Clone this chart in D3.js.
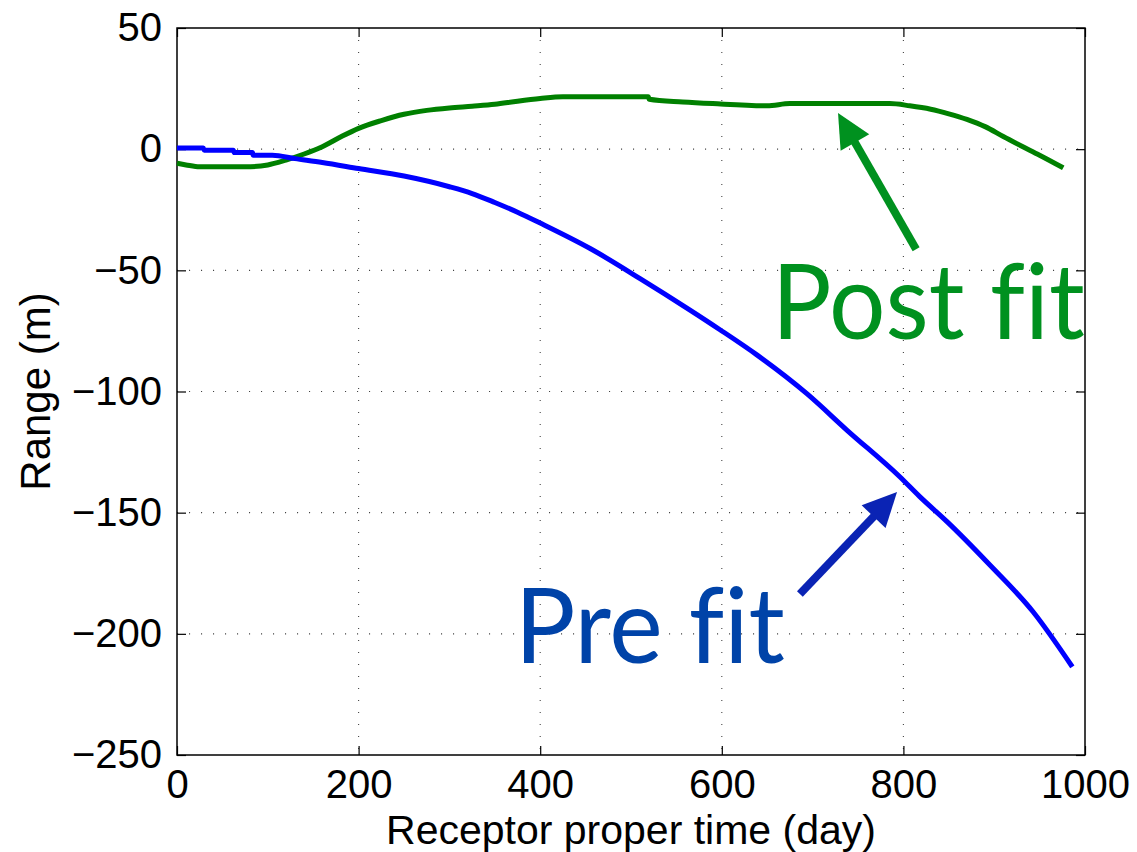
<!DOCTYPE html>
<html><head><meta charset="utf-8">
<script src="https://cdn.jsdelivr.net/npm/d3@7"></script>
<style>body{margin:0;background:#fff}</style>
</head><body>
<svg id="c" width="1137" height="852"></svg>
<script>
// ---- data ----
const xTicks = [0, 200, 400, 600, 800, 1000];
const yTicks = [50, 0, -50, -100, -150, -200, -250];

const preDays = [0, 29, 30, 62, 63, 83, 84, 105, 130, 160, 200, 250, 300, 325, 350, 375, 400, 455, 510, 565, 598, 639, 694, 738, 796, 818, 848, 895, 943, 986];
const preRange = [0.5, 0.5, -0.4, -0.4, -1.4, -1.4, -2.5, -2.5, -3.9, -5.5, -8, -11.1, -15.5, -18.3, -22, -26, -30.5, -41, -53.4, -66.4, -74.5, -85, -101, -116, -135.2, -143.4, -153.7, -171.5, -191, -213.6];

const postDays = [0, 10, 25, 75, 100, 120, 140, 160, 180, 200, 225, 250, 275, 300, 325, 350, 375, 400, 425, 519, 520, 557, 590, 650, 675, 785, 807, 830, 850, 870, 890, 910, 930, 950, 976];
const postRange = [-5.8, -6.5, -7.3, -7.3, -6.5, -4.5, -2, 1, 5, 8.6, 11.8, 14.4, 16, 17, 17.7, 18.5, 19.8, 20.9, 21.6, 21.6, 20.6, 19.5, 18.8, 17.9, 18.8, 18.8, 17.9, 16.5, 14.6, 12.3, 9.3, 5.2, 1.3, -2.5, -7.7];

// annotations (data coordinates)
const annotations = [
  {text: "Post fit", x: 655, y: -78.4, len: 313, color: "#00911f", arrowColor: "#00911f", tail: [814, -41.3], tip: [728, 14.9]},
  {text: "Pre fit", x: 372, y: -212, len: 270, color: "#0043a8", arrowColor: "#0a23b4", tail: [686, -183.6], tip: [793, -141.5]}
];

// ---- layout ----
const svg = d3.select("#c");
const L = 177, T = 28, W = 908, H = 727;
const x = d3.scaleLinear().domain([0, 1000]).range([L, L + W]);
const y = d3.scaleLinear().domain([-250, 50]).range([T + H, T]);

const fontAxis = "'Liberation Sans', Arial, Helvetica, sans-serif";

// grid
const g = svg.append("g");
g.selectAll(".gx").data(xTicks.slice(1, -1)).join("line")
  .attr("x1", d => x(d)).attr("x2", d => x(d)).attr("y1", T).attr("y2", T + H)
  .attr("stroke", "#444").attr("stroke-width", 1.1).attr("stroke-dasharray", "1.1,10.9");
g.selectAll(".gy").data(yTicks.slice(1, -1)).join("line")
  .attr("y1", d => y(d)).attr("y2", d => y(d)).attr("x1", L).attr("x2", L + W)
  .attr("stroke", "#444").attr("stroke-width", 1.1).attr("stroke-dasharray", "1.1,10.9");

// axes with inner ticks
const tk = 9;
svg.append("g").attr("transform", `translate(0,${T + H})`)
  .call(d3.axisBottom(x).tickValues(xTicks).tickSize(-tk).tickPadding(15).tickFormat(d3.format("d")))
  .call(a => a.select(".domain").remove());
svg.append("g").attr("transform", `translate(0,${T})`)
  .call(d3.axisTop(x).tickValues(xTicks).tickSize(-tk).tickFormat(""))
  .call(a => a.select(".domain").remove());
svg.append("g").attr("transform", `translate(${L},0)`)
  .call(d3.axisLeft(y).tickValues(yTicks).tickSize(-tk).tickPadding(15).tickFormat(d => d < 0 ? "\u2212" + Math.abs(d) : d))
  .call(a => a.select(".domain").remove());
svg.append("g").attr("transform", `translate(${L + W},0)`)
  .call(d3.axisRight(y).tickValues(yTicks).tickSize(-tk).tickFormat(""))
  .call(a => a.select(".domain").remove());

svg.selectAll(".tick line").attr("stroke", "#000").attr("stroke-width", 1.2);
svg.selectAll(".tick text").attr("font-family", fontAxis).attr("font-size", 40).attr("fill", "#000");

// box
svg.append("rect").attr("x", L).attr("y", T).attr("width", W).attr("height", H)
  .attr("fill", "none").attr("stroke", "#000").attr("stroke-width", 1.5);

// lines
const line = d3.line().curve(d3.curveMonotoneX).x(d => x(d[0])).y(d => y(d[1]));
svg.append("path").datum(postDays.map((d, i) => [d, postRange[i]]))
  .attr("d", line).attr("fill", "none").attr("stroke", "#008000").attr("stroke-width", 5).attr("stroke-linejoin", "round");
svg.append("path").datum(preDays.map((d, i) => [d, preRange[i]]))
  .attr("d", line).attr("fill", "none").attr("stroke", "#0000ff").attr("stroke-width", 5).attr("stroke-linejoin", "round");

// axis titles
svg.append("text").attr("x", x(500)).attr("y", 844).attr("text-anchor", "middle")
  .attr("font-family", fontAxis).attr("font-size", 41).text("Receptor proper time (day)");
svg.append("text").attr("transform", `translate(50,${y(-100)}) rotate(-90)`).attr("text-anchor", "middle")
  .attr("font-family", fontAxis).attr("font-size", 42).text("Range (m)");

// annotations
annotations.forEach(a => {
  const tx = x(a.tail[0]), ty = y(a.tail[1]), px = x(a.tip[0]), py = y(a.tip[1]);
  const dx = px - tx, dy = py - ty, len = Math.hypot(dx, dy);
  const ux = dx / len, uy = dy / len, nx = -uy, ny = ux;
  const hl = 34, hw = 16.5;
  const bx = px - ux * hl, by = py - uy * hl;
  svg.append("line").attr("x1", tx).attr("y1", ty).attr("x2", bx + ux * 4).attr("y2", by + uy * 4)
    .attr("stroke", a.arrowColor).attr("stroke-width", 8);
  svg.append("path").attr("d", `M${px},${py}L${bx + nx * hw},${by + ny * hw}L${bx - nx * hw},${by - ny * hw}Z`)
    .attr("fill", a.arrowColor);
  svg.append("text").attr("x", x(a.x)).attr("y", y(a.y))
    .attr("font-family", "Lato, 'Open Sans', sans-serif").attr("font-size", 104)
    .style("font-variant-ligatures", "none")
    .attr("textLength", a.len).attr("lengthAdjust", "spacingAndGlyphs")
    .attr("fill", a.color).text(a.text);
});
</script>
</body></html>
